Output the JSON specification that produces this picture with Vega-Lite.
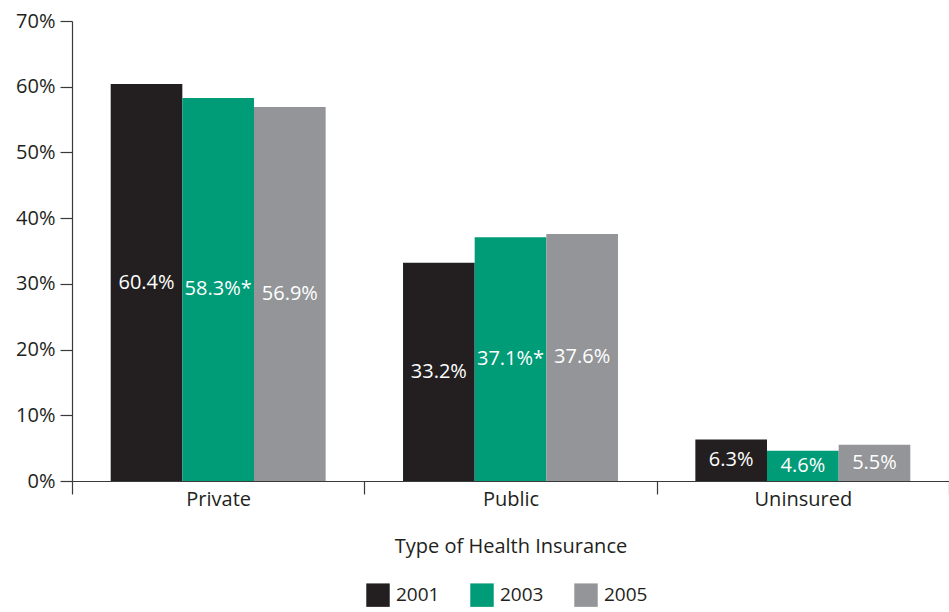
{
  "$schema": "https://vega.github.io/schema/vega-lite/v6.json",
  "width": 877,
  "height": 460,
  "autosize": {"type": "none"},
  "padding": {"left": 72, "top": 21, "right": 0, "bottom": 131},
  "background": "white",
  "config": {
    "font": "Open Sans",
    "view": {"stroke": null},
    "axis": {
      "labelColor": "#231f20",
      "titleColor": "#231f20",
      "domainColor": "#3a3a3a",
      "tickColor": "#3a3a3a",
      "labelFont": "Open Sans",
      "titleFont": "Open Sans",
      "titleFontWeight": "normal",
      "grid": false
    }
  },
  "data": {
    "values": [
      {"type": "Private", "year": "2001", "value": 60.4, "label": "60.4%"},
      {"type": "Private", "year": "2003", "value": 58.3, "label": "58.3%*"},
      {"type": "Private", "year": "2005", "value": 56.9, "label": "56.9%"},
      {"type": "Public", "year": "2001", "value": 33.2, "label": "33.2%"},
      {"type": "Public", "year": "2003", "value": 37.1, "label": "37.1%*"},
      {"type": "Public", "year": "2005", "value": 37.6, "label": "37.6%"},
      {"type": "Uninsured", "year": "2001", "value": 6.3, "label": "6.3%"},
      {"type": "Uninsured", "year": "2003", "value": 4.6, "label": "4.6%"},
      {"type": "Uninsured", "year": "2005", "value": 5.5, "label": "5.5%"}
    ]
  },
  "encoding": {
    "x": {
      "field": "type",
      "type": "nominal",
      "sort": ["Private", "Public", "Uninsured"],
      "scale": {"paddingInner": 0, "paddingOuter": 0},
      "axis": {
        "title": "Type of Health Insurance",
        "labelAngle": 0,
        "tickBand": "extent",
        "tickSize": 13,
        "labelFontSize": 20,
        "labelPadding": -5,
        "titleFontSize": 20,
        "titlePadding": 27,
        "domainWidth": 1.2,
        "tickWidth": 1.2
      }
    },
    "xOffset": {
      "field": "year",
      "type": "nominal",
      "scale": {"paddingInner": 0, "paddingOuter": 0.54}
    }
  },
  "layer": [
    {
      "mark": {"type": "bar"},
      "encoding": {
        "y": {
          "field": "value",
          "type": "quantitative",
          "scale": {"domain": [0, 70]},
          "axis": {
            "title": null,
            "values": [0, 10, 20, 30, 40, 50, 60, 70],
            "labelExpr": "datum.value + '%'",
            "labelFontSize": 20,
            "tickSize": 12,
            "labelPadding": 5,
            "domainWidth": 1.2,
            "tickWidth": 1.2
          }
        },
        "color": {
          "field": "year",
          "type": "nominal",
          "scale": {"domain": ["2001", "2003", "2005"], "range": ["#231f20", "#009b77", "#939598"]},
          "legend": {
            "title": null,
            "orient": "none",
            "legendX": 294,
            "legendY": 562,
            "direction": "horizontal",
            "symbolType": "square",
            "symbolSize": 550,
            "symbolStrokeWidth": 0,
            "symbolOpacity": 1,
            "labelFontSize": 19,
            "labelColor": "#231f20",
            "labelOffset": 6,
            "columnPadding": 30
          }
        }
      }
    },
    {
      "mark": {"type": "text", "color": "white", "fontSize": 20, "font": "Open Sans"},
      "encoding": {
        "y": {
          "field": "value",
          "type": "quantitative",
          "scale": {"domain": [0, 140]},
          "axis": null
        },
        "text": {"field": "label"}
      }
    }
  ],
  "resolve": {"scale": {"y": "independent"}}
}
